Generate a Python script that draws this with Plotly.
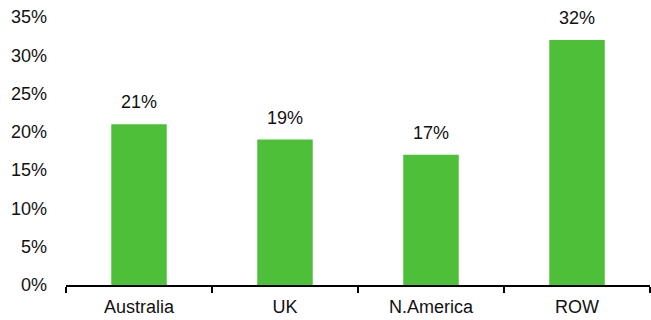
import plotly.graph_objects as go

categories = ["Australia", "UK", "N.America", "ROW"]
values = [21, 19, 17, 32]
labels = ["21%", "19%", "17%", "32%"]
y_ticks = [0, 5, 10, 15, 20, 25, 30, 35]
y_tick_labels = ["0%", "5%", "10%", "15%", "20%", "25%", "30%", "35%"]

font_family = "Liberation Sans, Arial, Helvetica, sans-serif"
fs = 18

fig = go.Figure()
fig.add_trace(go.Bar(
    x=categories, y=values,
    marker=dict(color="#4DBF39", line=dict(width=0)),
    hoverinfo="skip",
))

for c, v, t in zip(categories, values, labels):
    fig.add_annotation(x=c, y=v, text=t, showarrow=False, yanchor="bottom",
                       yshift=10, font=dict(size=fs, color="#111", family=font_family))

fig.update_layout(
    width=651, height=320,
    margin=dict(l=66, r=1, t=17, b=35),
    paper_bgcolor="white", plot_bgcolor="white",
    bargap=0.62,
    showlegend=False,
    font=dict(family=font_family, size=fs, color="#111"),
)
fig.update_xaxes(
    type="category",
    showline=True, linecolor="black", linewidth=2,
    ticks="outside", tickson="boundaries", ticklen=6, tickwidth=2, tickcolor="black",
    showgrid=False, zeroline=False,
    ticklabelstandoff=4,
    tickfont=dict(size=fs, family=font_family, color="#111"),
)
fig.update_yaxes(
    range=[0, 35],
    tickvals=y_ticks, ticktext=y_tick_labels,
    showline=False, showgrid=False, zeroline=False, ticks="",
    ticklabelstandoff=18,
    tickfont=dict(size=fs, family=font_family, color="#111"),
)

fig.write_html("out.html")
